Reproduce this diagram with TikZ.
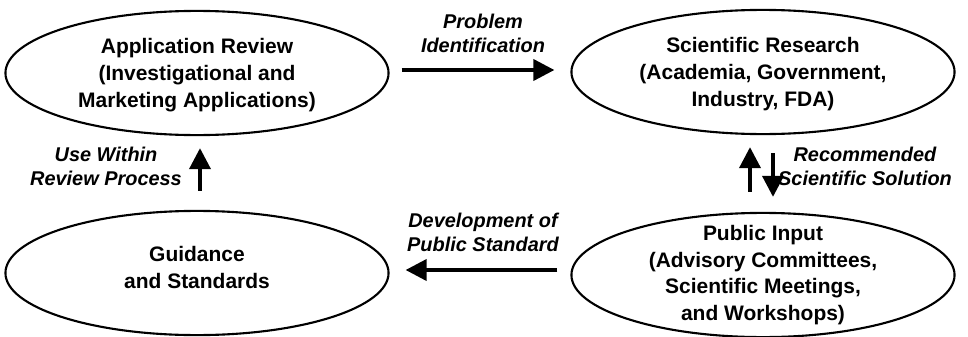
\documentclass[tikz,border=0pt]{standalone}
\usepackage{fontspec}
\setmainfont{Liberation Sans}
\usetikzlibrary{arrows.meta, shapes.geometric, positioning}
\tikzset{>={Triangle[length=18pt,width=18pt]}}
\tikzset{
  bubble/.style={ellipse, draw, line width=1.8pt, minimum width=327pt, minimum height=106pt,
    inner sep=-14pt, align=center, font=\fontsize{17.9}{22.8}\selectfont\bfseries},
  flow/.style={->, line width=3.2pt},
  note/.style={align=center, inner sep=0pt, font=\fontsize{17}{20.5}\selectfont\bfseries\itshape}
}

\begin{document}
\begin{tikzpicture}[x=0.03cm, y=-0.03cm]
            \useasboundingbox (0,0) rectangle (968,337);
            \node[bubble] (review) at (197,73) {Application Review\\(Investigational and\\\raisebox{0pt}[\height][0pt]{Marketing Applications)}};
            \node[bubble] (research) at (763,72) {Scientific Research\\(Academia, Government,\\\raisebox{0pt}[\height][0pt]{Industry, FDA)}};
            \node[bubble] (guide) at (197,273) {Guidance\\\raisebox{0pt}[\height][10pt]{and Standards}};
            \node[bubble] (public) at (763,275) {Public Input\\(Advisory Committees,\\Scientific Meetings,\\and Workshops)};
            \draw[flow] ([shift={(12,-3)}]review.east) -- ([shift={(-16,-2)}]research.west);
            \draw[flow] ([shift={(-13,-20)}]public.north) -- ([shift={(-13,12)}]research.south);
            \draw[flow] ([shift={(10,18)}]research.south) -- ([shift={(10,-15)}]public.north);
            \draw[flow] ([shift={(-13,-5)}]public.west) -- ([shift={(16,-3)}]guide.east);
            \draw[flow] ([shift={(3,-19)}]guide.north) -- ([shift={(3,12)}]review.south);
            \node[note] (ident) at (483,33) {Problem\\Identification};
            \node[note] (usein) at (106,166) {Use Within\\Review Process};
            \node[note] (recsol) at (865,166) {Recommended\\Scientific Solution};
            \node[note] (devstd) at (483,232) {Development of\\Public Standard};
            \end{tikzpicture}
\end{document}
